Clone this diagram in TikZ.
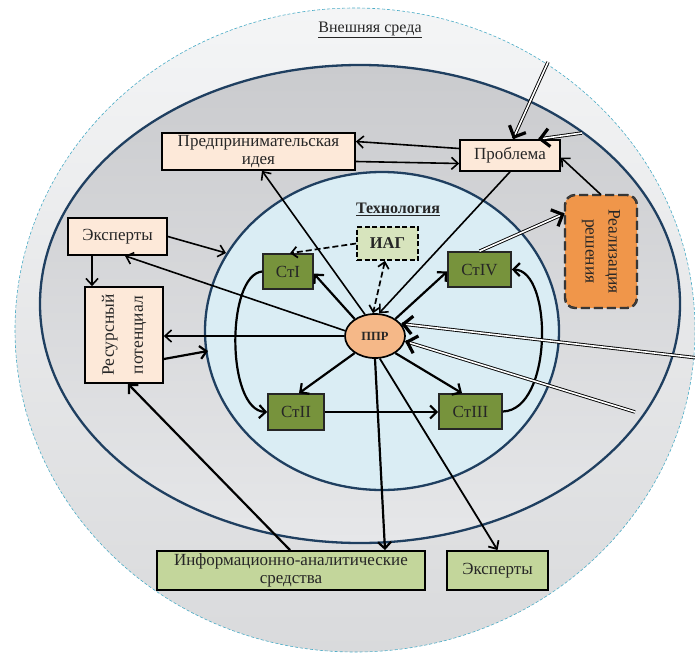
\documentclass[tikz,border=0pt]{standalone}
\usepackage{fontspec}
\setmainfont{Liberation Serif}
\usetikzlibrary{arrows.meta,calc,shapes.geometric}
\definecolor{peach}{HTML}{FDE9D9}
\definecolor{olivebox}{HTML}{77933C}
\definecolor{lgreen}{HTML}{C3D69B}
\definecolor{iagc}{HTML}{D7E4BD}
\definecolor{pprc}{HTML}{F5B888}
\definecolor{orng}{HTML}{F0964A}
\definecolor{inblue}{HTML}{DAEDF4}
\definecolor{navy}{HTML}{1F3F60}
\definecolor{outtop}{HTML}{F4F5F6}
\definecolor{outbot}{HTML}{D9DADC}
\definecolor{midtop}{HTML}{CACBCE}
\definecolor{midbot}{HTML}{E6E7E9}
\definecolor{dashblue}{HTML}{4BACC6}
\definecolor{txt}{HTML}{262626}
\begin{document}
\begin{tikzpicture}[x=1pt,y=-1pt,
  lab/.style={font=\fontsize{17}{17.5}\selectfont, text=txt},
  pbox/.style={draw=black, line width=1.7pt, fill=peach, align=center, inner sep=0pt, lab},
  gbox/.style={draw=black!85, line width=1.6pt, fill=olivebox, inner sep=0pt, lab},
  lgbox/.style={draw=black, line width=1.9pt, fill=lgreen, align=center, inner sep=0pt, lab},
  arr/.style={line width=1.6pt, -{Straight Barb[length=6.5pt,width=12pt]}},
  tarr/.style={line width=2.2pt, -{Straight Barb[length=6.5pt,width=13pt]}},
  darr/.style={line width=1.7pt, dash pattern=on 6pt off 3pt, -{Straight Barb[length=6pt,width=11pt]}},
  dbl/.style={draw=black, double=white, line width=0.9pt, double distance=1.6pt},
  bighead/.style={line width=3.2pt, -{Straight Barb[length=9pt,width=18pt]}},
  ring/.style={draw=navy, line width=2.3pt}]
\path[use as bounding box] (0,0) rectangle (695,653);

% environments
\shade[top color=outtop, bottom color=outbot] (355,330) ellipse [x radius=340pt, y radius=322pt];
\draw[dashblue, line width=0.6pt, dash pattern=on 3pt off 2pt] (355,330) ellipse [x radius=340pt, y radius=322pt];
\shade[top color=midtop, bottom color=midbot] (360,304) ellipse [x radius=320pt, y radius=239pt];
\draw[ring] (360,304) ellipse [x radius=320pt, y radius=239pt];
\filldraw[fill=inblue, ring] (382,331) ellipse [x radius=177pt, y radius=159pt];

% labels
\node[lab, font=\fontsize{16}{16}\selectfont] (env) at (370,30) {\underline{Внешняя среда}};
\node[lab, font=\bfseries\fontsize{16}{16}\selectfont] (tech) at (398,209) {\underline{Технология}};

% nodes
\node[pbox, minimum width=193pt, minimum height=37pt] (pi) at (258.5,151.5) {Предпринимательская\\идея};
\node[pbox, minimum width=100pt, minimum height=31pt] (prob) at (510,155.5) {Проблема};
\node[pbox, minimum width=99pt, minimum height=37pt] (expL) at (117.5,236.5) {Эксперты};
\node[pbox, minimum width=78pt, minimum height=96pt] (res) at (124,335) {};
\node[lab, rotate=90, align=center, font=\fontsize{17.5}{29}\selectfont] (reslab) at (res.center) {Ресурсный\\потенциал};
\node[draw=black, line width=1.7pt, dash pattern=on 5pt off 2.5pt, fill=iagc, minimum width=61pt, minimum height=33pt, inner sep=0pt, lab, font=\bfseries\fontsize{16.5}{16.5}\selectfont] (iag) at (387.5,243.5) {ИАГ};
\node[gbox, minimum width=50pt, minimum height=35pt] (st1) at (288,271.5) {СтI};
\node[gbox, minimum width=63pt, minimum height=35pt] (st4) at (479.5,269.5) {СтIV};
\node[gbox, minimum width=56pt, minimum height=36pt] (st2) at (296,412) {СтII};
\node[gbox, minimum width=63pt, minimum height=35pt] (st3) at (470.5,411.5) {СтIII};
\node[ellipse, draw=black, line width=1.7pt, fill=pprc, minimum width=60pt, minimum height=44pt, inner sep=0pt, lab, font=\bfseries\fontsize{12.5}{12.5}\selectfont] (ppr) at (375,336) {ППР};
\node[rectangle, rounded corners=10pt, fill=orng, draw=black!85, double=gray!50!black, double distance=1.2pt, line width=0.6pt, dash pattern=on 9pt off 4pt, minimum width=72pt, minimum height=113pt] (real) at (601,251.5) {};
\node[lab, rotate=-90, align=center, font=\fontsize{17.5}{23}\selectfont] (reallab) at (real.center) {Реализация\\решения};
\node[lgbox, minimum width=268pt, minimum height=39pt] (ias) at (291,570.5) {Информационно-аналитические\\средства};
\node[lgbox, minimum width=101pt, minimum height=39pt] (expB) at (497.5,570.5) {Эксперты};

% free ends
\coordinate (ext1) at (548,62);
\coordinate (ext2) at (582,133);
\coordinate (ext3) at (698,358);
\coordinate (ext4) at (635,412);
\coordinate (c1) at (226,253);
\coordinate (c2) at (208,351);

% connectors
\draw[arr] ([yshift=7pt]prob.west) -- ([yshift=10pt]pi.east);
\draw[arr] ([yshift=-10pt]pi.east) -- ([yshift=-8pt]prob.west);
\draw[arr] (real.north) -- ([yshift=-2pt]prob.east);
\draw[arr] (prob.south) -- (ppr.80);
\draw[arr] (ppr.115) -- ([xshift=3.5pt]pi.south);
\draw[arr] (expL.east) -- (c1);
\draw[arr] (ppr.170) -- ([xshift=7.5pt]expL.south);
\draw[arr] (ppr.west) -- (ppr.west -| res.east);
\draw[tarr] ([yshift=-24pt]res.east) -- (c2);
\draw[arr] ([xshift=-25.5pt]expL.south) -- ([xshift=-32pt]res.north);
\draw[tarr] ([xshift=-1pt]ias.north) -- ([xshift=4pt]res.south);
\draw[tarr] (ppr.-90) -- ([xshift=94pt]ias.north);
\draw[arr, line width=1.8pt] (ppr.-78) -- (expB.north);
\draw[tarr] (ppr.140) -- ([yshift=-2pt]st1.east);
\draw[tarr] (ppr.40) -- ([yshift=-2pt]st4.west);
\draw[tarr] (ppr.-140) -- ([xshift=3pt]st2.north);
\draw[tarr] (ppr.-40) -- ([xshift=-8.5pt]st3.north);
\draw[tarr] (st2.east) -- (st2.east -| st3.west);
\draw[tarr] (st1.west) .. controls (226,275) and (226,410) .. (st2.west);
\draw[tarr] (st3.east) .. controls (553,410) and (553,270) .. (st4.east);
\draw[darr] (iag.west) -- ([xshift=2pt]st1.north);
\draw[darr, {Straight Barb[length=6pt,width=11pt]}-{Straight Barb[length=6pt,width=11pt]}] ([xshift=-2.5pt]iag.south) -- (ppr.95);

% double lines with heavy heads
\draw[dbl] (ext1) -- ($([xshift=3pt]prob.north)!3pt!(ext1)$);
\draw[bighead] ($([xshift=3pt]prob.north)!1pt!(ext1)$) -- ([xshift=3pt]prob.north);
\draw[dbl] (ext2) -- ($([xshift=28pt]prob.north)!3pt!(ext2)$);
\draw[bighead] ($([xshift=28pt]prob.north)!1pt!(ext2)$) -- ([xshift=28pt]prob.north);
\draw[dbl] (st4.north) -- ($([yshift=38pt]real.west)!3pt!(st4.north)$);
\draw[bighead] ($([yshift=38pt]real.west)!1pt!(st4.north)$) -- ([yshift=38pt]real.west);
\draw[dbl] (ext3) -- ($(ppr.25)!3pt!(ext3)$);
\draw[bighead] ($(ppr.25)!1pt!(ext3)$) -- (ppr.25);
\draw[dbl] (ext4) -- ($(ppr.-10)!3pt!(ext4)$);
\draw[bighead] ($(ppr.-10)!1pt!(ext4)$) -- (ppr.-10);
\end{tikzpicture}
\end{document}
